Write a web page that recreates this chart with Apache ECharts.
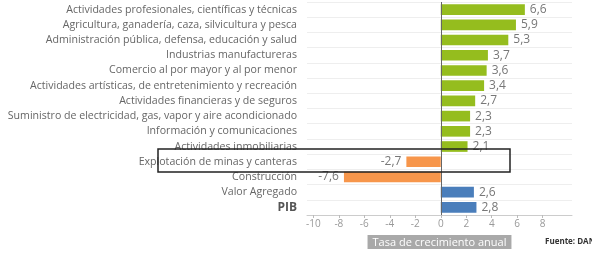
<!DOCTYPE html>
<html>
<head>
<meta charset="utf-8">
<script src="https://cdn.jsdelivr.net/npm/echarts@6/dist/echarts.min.js"></script>
<style>
  html, body { margin: 0; padding: 0; background: #fff; }
  #chart { width: 592px; height: 253px; }
</style>
</head>
<body>
<div id="chart"></div>
<script>
//---------------------------Data---------------------------
//sectors, top to bottom
let sectors = [
    'Actividades profesionales, científicas y técnicas',
    'Agricultura, ganadería, caza, silvicultura y pesca',
    'Administración pública, defensa, educación y salud',
    'Industrias manufactureras',
    'Comercio al por mayor y al por menor',
    'Actividades artísticas, de entretenimiento y recreación',
    'Actividades financieras y de seguros',
    'Suministro de electricidad, gas, vapor y aire acondicionado',
    'Información y comunicaciones',
    'Actividades inmobiliarias',
    'Explotación de minas y canteras',
    'Construcción',
    'Valor Agregado',
    'PIB'
];

//annual growth rate (%)
let growth = [6.6, 5.9, 5.3, 3.7, 3.6, 3.4, 2.7, 2.3, 2.3, 2.1, -2.7, -7.6, 2.6, 2.8];

//aggregate rows drawn in blue
let totals = ['Valor Agregado', 'PIB'];

//x tick labels
let xTicks = [-10, -8, -6, -4, -2, 0, 2, 4, 6, 8];

//---------------------------UI---------------------------
let chart = echarts.init(document.getElementById('chart'));
let font = '"Open Sans", "Noto Sans", sans-serif';

function barColor(i) {
    if (totals.indexOf(sectors[i]) >= 0) {
        return '#4a7ebb';
    }
    if (growth[i] < 0) {
        return '#f7964b';
    }
    return '#95bd1e';
}

let barData = [];
for (let i = 0; i < growth.length; i++) {
    barData.push({
        value: growth[i],
        itemStyle: {color: barColor(i)},
        label: {position: growth[i] < 0 ? 'left' : 'right'}
    });
}

let option = {
    animation: false,
    grid: {left: 307, right: 20, top: 2, bottom: 38, outerBoundsMode: 'none'},
    xAxis: {
        type: 'value',
        min: -10.5,
        max: 10.3,
        name: 'Tasa de crecimiento anual',
        nameLocation: 'middle',
        nameGap: 20,
        nameMoveOverlap: false,
        nameTextStyle: {
            color: '#fff', fontSize: 11, fontFamily: font,
            backgroundColor: '#a9a9a9', padding: [2, 5, 1, 5]
        },
        axisLine: {show: true, lineStyle: {color: '#ccc'}},
        axisTick: {show: true, customValues: xTicks, length: 3, inside: false, lineStyle: {color: '#bbb'}},
        axisLabel: {customValues: xTicks, color: '#999', fontSize: 10, fontFamily: font, margin: 4},
        splitLine: {show: false}
    },
    yAxis: {
        type: 'category',
        data: sectors,
        inverse: true,
        axisLine: {show: false},
        axisTick: {show: false},
        splitLine: {show: true, lineStyle: {color: '#eee'}},
        axisLabel: {
            color: '#666',
            fontSize: 10.6,
            fontFamily: font,
            margin: 10,
            formatter: function (v) {
                return v === 'PIB' ? '{b|' + v + '}' : v;
            },
            rich: {b: {fontWeight: 'bold', fontSize: 12, color: '#555', fontFamily: font}}
        }
    },
    series: [{
        type: 'bar',
        data: barData,
        barWidth: '70%',
        label: {
            show: true,
            color: '#777',
            fontSize: 12,
            fontFamily: font,
            distance: 5,
            formatter: function (p) {
                return String(p.value).replace('.', ',');
            }
        },
        markLine: {
            silent: true,
            symbol: 'none',
            label: {show: false},
            lineStyle: {color: '#666', type: 'solid', width: 1},
            data: [{xAxis: 0}]
        }
    }],
    graphic: [
        {
            type: 'rect',
            shape: {x: 158, y: 149, width: 352, height: 23},
            style: {fill: 'none', stroke: '#222', lineWidth: 1.5},
            z: 100
        },
        {
            type: 'text',
            left: 545,
            top: 238,
            style: {text: 'Fuente: DANE', fill: '#333', font: 'bold 8px ' + font}
        }
    ]
};

chart.setOption(option);
</script>
</body>
</html>
